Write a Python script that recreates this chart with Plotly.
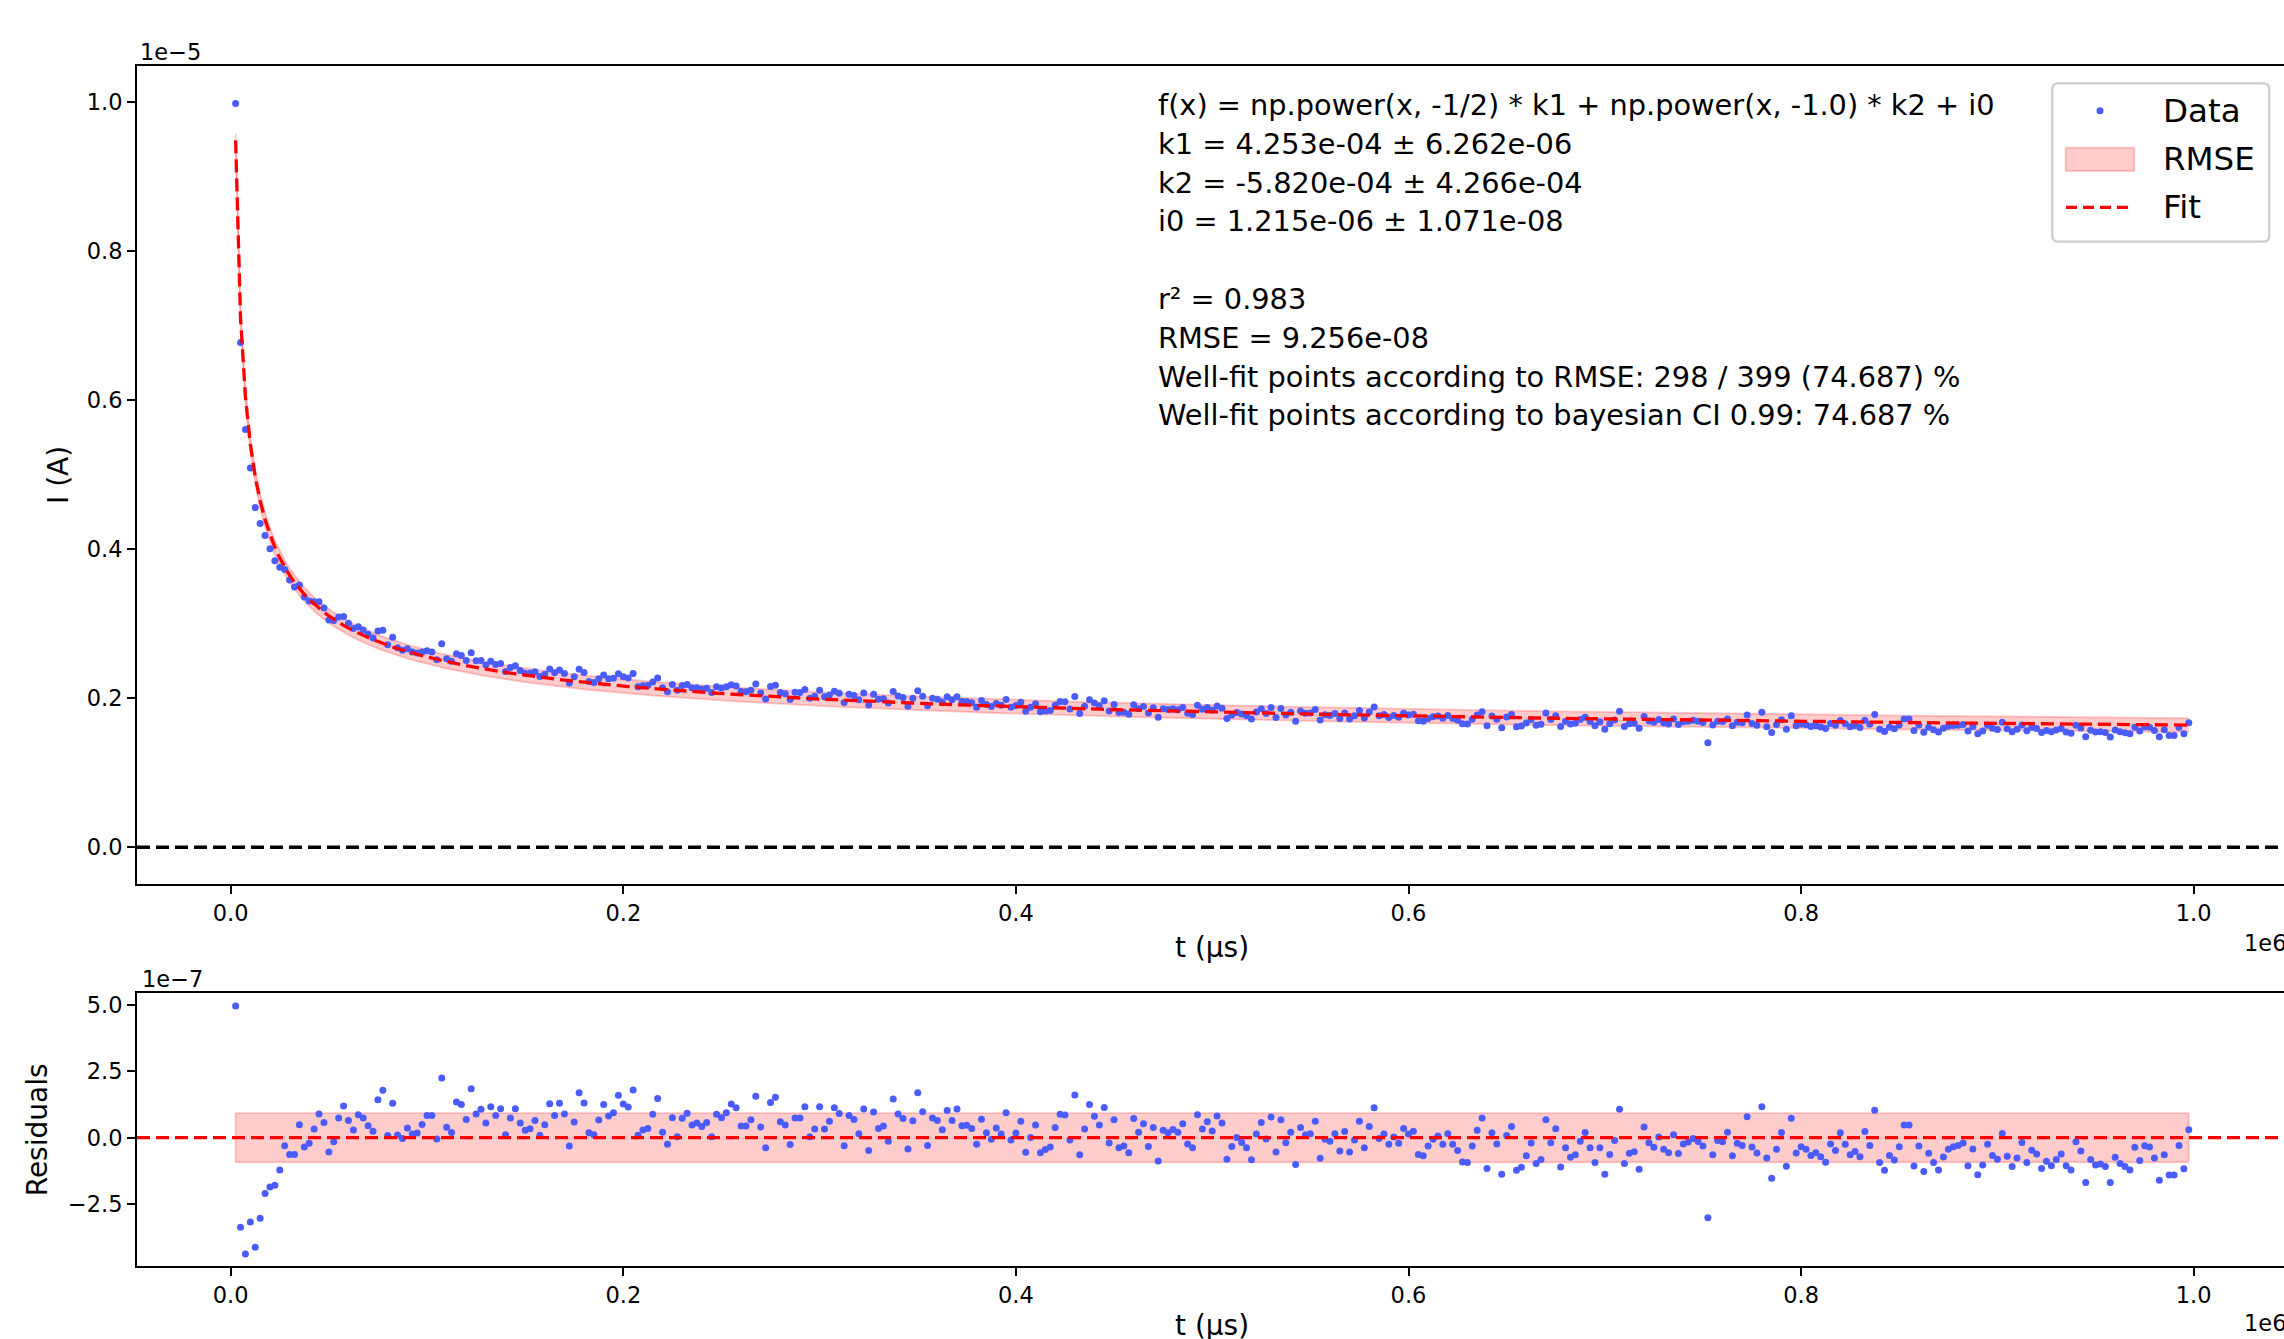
import numpy as np
import plotly.graph_objects as go

# ---------------- data ----------------
t_first_us = 2500
t_step_us = 2500
n_points = 399
t_us = t_first_us + t_step_us * np.arange(n_points)

k1, k2, i0 = 4.253e-04, -5.820e-04, 1.215e-06
rmse = 9.256e-08

# residuals in units of 1e-7 A
residuals_e7 = [
    4.97, -3.38, -4.39, -3.18, -4.13, -3.04, -2.11, -1.86, -1.79, -1.22,
    -0.30, -0.63, -0.63, 0.49, -0.35, -0.21, 0.33, 0.89, 0.57, -0.54,
    -0.15, 0.74, 1.20, 0.65, 0.29, 0.87, 0.74, 0.45, 0.24, 1.43,
    1.79, 0.08, 1.30, 0.10, -0.03, 0.37, 0.14, 0.18, 0.50, 0.84,
    0.84, -0.05, 2.25, 0.39, 0.20, 1.35, 1.25, 0.69, 1.85, 0.89,
    1.07, 0.55, 1.17, 0.84, 1.09, 0.11, 0.74, 1.09, 0.55, 0.28,
    0.34, 0.65, 0.09, 0.49, 1.28, 0.84, 1.30, 0.89, -0.31, 0.59,
    1.70, 1.31, 0.19, 0.11, 0.67, 1.25, 0.82, 0.94, 1.60, 1.27,
    1.16, 1.80, 0.09, 0.29, 0.35, 0.88, 1.48, 0.21, -0.25, 0.75,
    0.04, 0.73, 0.92, 0.48, 0.55, 0.42, 0.57, 0.04, 0.88, 0.75,
    0.94, 1.27, 1.13, 0.44, 0.44, 0.68, 1.56, 0.40, -0.38, 1.33,
    1.53, 0.60, 0.48, -0.26, 0.74, 0.74, 1.17, 0.04, 0.33, 1.17,
    0.33, 0.62, 1.13, 0.91, -0.30, 0.84, 0.69, 0.15, 1.08, -0.48,
    0.97, 0.35, 0.44, -0.13, 1.46, 0.89, 0.72, -0.43, 0.64, 1.70,
    0.98, -0.29, 0.74, 0.65, 0.30, 1.03, 0.65, 1.08, 0.45, 0.47,
    0.35, -0.25, 0.70, 0.19, -0.06, 0.37, 0.14, 0.94, -0.09, 0.18,
    0.62, -0.55, 0.01, 0.48, -0.57, -0.45, -0.35, 0.38, 0.88, 0.86,
    -0.09, 1.61, -0.64, 0.33, 1.25, 0.81, 0.48, 1.14, -0.20, 0.68,
    -0.38, -0.31, -0.57, 0.72, 0.21, 0.53, -0.33, 0.38, -0.88, 0.28,
    0.19, 0.31, 0.21, 0.53, -0.24, -0.38, 0.87, 0.33, 0.60, 0.25,
    0.82, 0.55, -0.81, -0.33, 0.01, -0.18, -0.38, -0.83, 0.14, 0.57,
    -0.05, 0.78, -0.54, 0.68, -0.19, 0.21, -1.01, 0.38, 0.11, 0.15,
    0.62, -0.78, -0.06, -0.13, 0.15, -0.50, 0.23, -0.54, -0.09, 0.62,
    -0.38, 0.42, 1.13, -0.03, 0.14, -0.25, 0.03, -0.21, 0.35, 0.14,
    0.24, -0.63, -0.68, -0.31, -0.06, 0.06, -0.25, 0.15, -0.25, -0.48,
    -0.92, -0.94, -0.31, 0.28, 0.74, -1.16, 0.19, -0.24, -1.38, 0.08,
    0.42, -1.23, -1.12, -0.68, -0.20, -0.97, -0.82, 0.68, -0.19, 0.34,
    -1.11, -0.38, -0.74, -0.64, -0.13, 0.20, -0.38, -0.94, -0.38, -1.38,
    -0.63, -0.11, 1.07, -0.97, -0.59, -0.53, -1.19, 0.40, -0.19, -0.36,
    0.03, -0.44, -0.57, 0.11, -0.60, -0.24, -0.16, -0.03, -0.14, -0.31,
    -3.02, -0.64, -0.11, -0.15, 0.21, -0.68, -0.21, -0.29, 0.79, -0.35,
    -0.58, 1.17, -0.77, -1.53, -0.44, 0.20, -1.08, 0.73, -0.58, -0.34,
    -0.44, -0.67, -0.57, -0.72, -0.93, -0.24, -0.48, 0.19, -0.25, -0.64,
    -0.52, -0.72, 0.23, -0.29, 1.04, -0.94, -1.23, -0.67, -0.84, -0.34,
    0.48, 0.48, -1.07, -0.31, -1.28, -0.59, -0.94, -1.22, -0.73, -0.44,
    -0.34, -0.29, -0.20, -1.06, -0.43, -1.40, -1.03, -0.25, -0.67, -0.81,
    0.16, -0.70, -1.09, -0.77, -0.18, -0.94, -0.47, -0.62, -1.16, -0.89,
    -1.06, -0.82, -0.62, -1.06, -1.22, -0.15, -0.50, -1.69, -0.82, -1.03,
    -0.99, -1.09, -1.69, -0.74, -0.97, -1.09, -1.22, -0.36, -0.86, -0.30,
    -0.35, -0.77, -1.61, -0.64, -1.41, -1.41, -0.29, -1.17, 0.30,
]

x_tick_vals = [0, 2e5, 4e5, 6e5, 8e5, 1e6]
x_tick_text = ["0.0", "0.2", "0.4", "0.6", "0.8", "1.0"]
y_tick_vals = [0, 2e-6, 4e-6, 6e-6, 8e-6, 1e-5]
y_tick_text = ["0.0", "0.2", "0.4", "0.6", "0.8", "1.0"]
r_tick_vals = [-2.5e-7, 0, 2.5e-7, 5e-7]
r_tick_text = ["\u22122.5", "0.0", "2.5", "5.0"]

info_lines = [
    "f(x) = np.power(x, -1/2) * k1 + np.power(x, -1.0) * k2 + i0",
    "k1 = 4.253e-04 \u00b1 6.262e-06",
    "k2 = -5.820e-04 \u00b1 4.266e-04",
    "i0 = 1.215e-06 \u00b1 1.071e-08",
    "",
    "r\u00b2 = 0.983",
    "RMSE = 9.256e-08",
    "Well-fit points according to RMSE: 298 / 399 (74.687) %",
    "Well-fit points according to bayesian CI 0.99: 74.687 %",
]
legend_labels = ["Data", "RMSE", "Fit"]

# ---------------- derived ----------------
residuals = np.array(residuals_e7) * 1e-7
fit = np.power(t_us, -0.5) * k1 + np.power(t_us, -1.0) * k2 + i0
current = fit + residuals

# ---------------- styling / geometry ----------------
W, H = 2284, 1339
L, R, T, B = 137, 0, 66, 73
FONT = "DejaVu Sans"
BLUE = "#4b5cff"
BAND = "rgba(255,0,0,0.2)"
DASH = "13px,6px"
LW = 3.3
SPINE = 1.9


def px(x):
    return (x - L) / (W - L - R)


def py(y):
    return (H - B - y) / (H - T - B)


x0_px, x_scale = 230.7, 1963.0  # pixel of t=0, pixels per 1e6
x_range = [(L - x0_px) / x_scale * 1e6, (W - R - x0_px) / x_scale * 1e6]

fig = go.Figure()

# top panel
fig.add_trace(go.Scatter(x=t_us, y=fit - rmse, mode="lines",
                         line=dict(color=BAND, width=1.9), xaxis="x", yaxis="y",
                         showlegend=False, hoverinfo="skip"))
fig.add_trace(go.Scatter(x=t_us, y=fit + rmse, mode="lines", fill="tonexty",
                         fillcolor=BAND, line=dict(color=BAND, width=1.9),
                         xaxis="x", yaxis="y", showlegend=False, hoverinfo="skip"))
fig.add_trace(go.Scatter(x=t_us, y=current, mode="markers",
                         marker=dict(color=BLUE, size=7, line=dict(width=0)),
                         xaxis="x", yaxis="y", showlegend=False))
fig.add_trace(go.Scatter(x=t_us, y=fit, mode="lines",
                         line=dict(color="red", width=LW, dash=DASH),
                         xaxis="x", yaxis="y", showlegend=False))

# residual panel
band_x = [t_us[0], t_us[-1], t_us[-1], t_us[0], t_us[0]]
band_y = [-rmse, -rmse, rmse, rmse, -rmse]
fig.add_trace(go.Scatter(x=band_x, y=band_y, mode="lines", fill="toself",
                         fillcolor=BAND, line=dict(color=BAND, width=1.9),
                         xaxis="x2", yaxis="y2", showlegend=False, hoverinfo="skip"))
fig.add_trace(go.Scatter(x=t_us, y=residuals, mode="markers",
                         marker=dict(color=BLUE, size=7, line=dict(width=0)),
                         xaxis="x2", yaxis="y2", showlegend=False))

shapes = [
    dict(type="line", xref="paper", yref="y", x0=0, x1=1, y0=0, y1=0,
         line=dict(color="black", width=LW, dash=DASH)),
    dict(type="line", xref="paper", yref="y2", x0=0, x1=1, y0=0, y1=0,
         line=dict(color="red", width=LW, dash=DASH)),
]

# legend (drawn by hand to match the matplotlib look)
lx0, lx1, ly0, ly1, rr = 2052.3, 2269.3, 83.3, 241.7, 6
path = (f"M {px(lx0+rr)},{py(ly0)} L {px(lx1-rr)},{py(ly0)} Q {px(lx1)},{py(ly0)} {px(lx1)},{py(ly0+rr)} "
        f"L {px(lx1)},{py(ly1-rr)} Q {px(lx1)},{py(ly1)} {px(lx1-rr)},{py(ly1)} "
        f"L {px(lx0+rr)},{py(ly1)} Q {px(lx0)},{py(ly1)} {px(lx0)},{py(ly1-rr)} "
        f"L {px(lx0)},{py(ly0+rr)} Q {px(lx0)},{py(ly0)} {px(lx0+rr)},{py(ly0)} Z")
shapes.append(dict(type="path", xref="paper", yref="paper", path=path,
                   fillcolor="rgba(255,255,255,0.8)", line=dict(color="#cccccc", width=2.2)))
shapes.append(dict(type="circle", xref="paper", yref="paper",
                   x0=px(2100 - 3.5), x1=px(2100 + 3.5), y0=py(110.7 + 3.5), y1=py(110.7 - 3.5),
                   fillcolor=BLUE, line=dict(width=0)))
shapes.append(dict(type="rect", xref="paper", yref="paper",
                   x0=px(2065.7), x1=px(2134.3), y0=py(171), y1=py(147.7),
                   fillcolor=BAND, line=dict(color=BAND, width=1.9)))
shapes.append(dict(type="line", xref="paper", yref="paper",
                   x0=px(2066), x1=px(2134), y0=py(207.3), y1=py(207.3),
                   line=dict(color="red", width=LW, dash="11px,6px")))

annotations = []
for lab, yc in zip(legend_labels, [110.7, 159.3, 207.3]):
    annotations.append(dict(text=lab, xref="paper", yref="paper", x=px(2161), y=py(yc),
                            xanchor="left", yanchor="middle", showarrow=False,
                            font=dict(family=FONT, size=32.5, color="black")))

for i, line in enumerate(info_lines):
    if not line:
        continue
    annotations.append(dict(text=line, xref="paper", yref="paper", x=px(1156),
                            y=py(105 + 38.8 * i), xanchor="left", yanchor="middle",
                            showarrow=False, font=dict(family=FONT, size=28.8, color="black")))

def label(text, x, y, size, angle=0, xanchor="center"):
    annotations.append(dict(text=text, xref="paper", yref="paper", x=px(x), y=py(y),
                            xanchor=xanchor, yanchor="middle", showarrow=False, textangle=angle,
                            font=dict(family=FONT, size=size, color="black")))

label("I (A)", 58, 475, 28, -90)
label("Residuals", 37.3, 1130, 28, -90)
label("t (\u00b5s)", 1211.7, 947, 28)
label("t (\u00b5s)", 1211.7, 1325.5, 28)
label("1e\u22125", 138.3, 51.7, 22.5, xanchor="left")
label("1e\u22127", 139.5, 979.3, 22.5, xanchor="left")
label("1e6", 2241.6, 943, 22.5, xanchor="left")
label("1e6", 2241.6, 1323, 22.5, xanchor="left")

axis_common = dict(showline=True, linecolor="black", linewidth=SPINE, ticks="outside",
                   ticklen=8, tickwidth=SPINE, tickcolor="black", showgrid=False,
                   zeroline=False, tickfont=dict(family=FONT, size=22.5, color="black"))

fig.update_layout(
    width=W, height=H, margin=dict(l=L, r=R, t=T, b=B, pad=0),
    paper_bgcolor="white", plot_bgcolor="white", showlegend=False,
    xaxis=dict(domain=[0, 1], range=x_range, anchor="y", mirror=True,
               tickvals=x_tick_vals, ticktext=x_tick_text, **axis_common),
    yaxis=dict(domain=[py(884.3), 1], range=[-4.97e-7, 1.0487e-5], anchor="x",
               tickvals=y_tick_vals, ticktext=y_tick_text, **axis_common),
    xaxis2=dict(domain=[0, 1], range=x_range, anchor="y2", mirror=True,
                tickvals=x_tick_vals, ticktext=x_tick_text, **axis_common),
    yaxis2=dict(domain=[0, py(993.3)], range=[-4.842e-7, 5.449e-7], anchor="x2",
                tickvals=r_tick_vals, ticktext=r_tick_text, **axis_common),
    shapes=shapes, annotations=annotations,
)

fig.write_html("out.html")
